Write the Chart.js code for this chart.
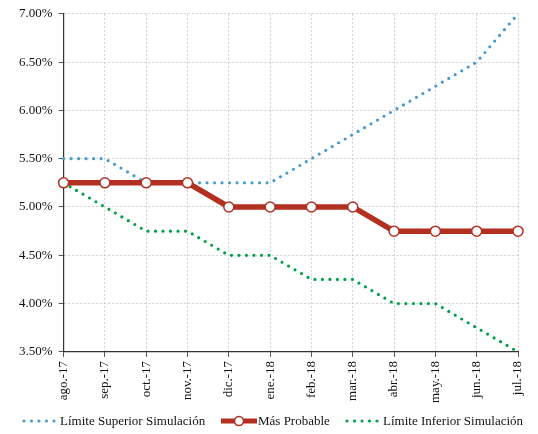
<!DOCTYPE html>
<html>
<head>
<meta charset="utf-8">
<script src="https://cdn.jsdelivr.net/npm/chart.js@4"></script>
<style>
  html, body { margin: 0; padding: 0; background: #ffffff; }
  #wrap { width: 538px; height: 434px; }
</style>
</head>
<body>
<div id="wrap"><canvas id="c" width="538" height="434"></canvas></div>
<script>
// Monthly rate path: upper/lower simulation bounds and most likely scenario (%)
const months = ['ago.-17', 'sep.-17', 'oct.-17', 'nov.-17', 'dic.-17', 'ene.-18',
                'feb.-18', 'mar.-18', 'abr.-18', 'may.-18', 'jun.-18', 'jul.-18'];
const upperSim = [5.50, 5.50, 5.25, 5.25, 5.25, 5.25, 5.50, 5.75, 6.00, 6.25, 6.50, 7.00];
const mostLikely = [5.25, 5.25, 5.25, 5.25, 5.00, 5.00, 5.00, 5.00, 4.75, 4.75, 4.75, 4.75];
const lowerSim = [5.25, 5.00, 4.75, 4.75, 4.50, 4.50, 4.25, 4.25, 4.00, 4.00, 3.75, 3.50];
const seriesNames = ['Límite Superior Simulación', 'Más Probable', 'Límite Inferior Simulación'];
const yTicks = [3.5, 4.0, 4.5, 5.0, 5.5, 6.0, 6.5, 7.0];

const BLUE = '#4a9bcd';
const RED = '#b32f21';
const GREEN = '#00a04a';
const FONT = '"Liberation Serif", "Times New Roman", serif';

// Legend drawn along the bottom edge
const bottomLegend = {
  id: 'bottomLegend',
  afterDraw(chart) {
    const ctx = chart.ctx;
    const y = 421;
    ctx.save();
    ctx.font = '13px ' + FONT;
    ctx.fillStyle = '#111';
    ctx.textBaseline = 'middle';
    ctx.textAlign = 'left';

    const dotted = (x0, x1, color) => {
      ctx.save();
      ctx.strokeStyle = color;
      ctx.lineWidth = 3.2;
      ctx.lineCap = 'round';
      ctx.setLineDash([0, 7.5]);
      ctx.beginPath();
      ctx.moveTo(x0, y);
      ctx.lineTo(x1, y);
      ctx.stroke();
      ctx.restore();
    };

    // upper bound
    dotted(24, 55, BLUE);
    ctx.fillText(seriesNames[0], 60, y + 1);

    // most likely
    ctx.save();
    ctx.strokeStyle = RED;
    ctx.lineWidth = 5;
    ctx.beginPath();
    ctx.moveTo(221, y);
    ctx.lineTo(257, y);
    ctx.stroke();
    ctx.beginPath();
    ctx.arc(239, y, 4.5, 0, Math.PI * 2);
    ctx.fillStyle = '#ffffff';
    ctx.fill();
    ctx.lineWidth = 1.5;
    ctx.stroke();
    ctx.restore();
    ctx.fillText(seriesNames[1], 258, y + 1);

    // lower bound
    dotted(347, 378, GREEN);
    ctx.fillText(seriesNames[2], 383, y + 1);
    ctx.restore();
  }
};

new Chart(document.getElementById('c'), {
  type: 'line',
  data: {
    labels: months,
    datasets: [
      {
        label: seriesNames[1],
        data: mostLikely,
        borderColor: RED,
        backgroundColor: '#ffffff',
        borderWidth: 5.5,
        pointRadius: 5,
        pointBorderWidth: 1.5,
        pointBorderColor: RED,
        pointBackgroundColor: '#ffffff',
        tension: 0,
        order: 0
      },
      {
        label: seriesNames[2],
        data: lowerSim,
        borderColor: GREEN,
        borderWidth: 3.2,
        borderDash: [0, 7.5],
        borderCapStyle: 'round',
        pointRadius: 0,
        tension: 0,
        order: 1
      },
      {
        label: seriesNames[0],
        data: upperSim,
        borderColor: BLUE,
        borderWidth: 3.2,
        borderDash: [0, 7.5],
        borderCapStyle: 'round',
        pointRadius: 0,
        tension: 0,
        order: 2
      }
    ]
  },
  options: {
    responsive: false,
    animation: false,
    devicePixelRatio: 1,
    layout: { padding: { top: 8, right: 20, left: 13, bottom: 27 } },
    plugins: {
      legend: { display: false },
      tooltip: { enabled: false }
    },
    scales: {
      x: {
        offset: false,
        grid: {
          color: '#cfcfcf',
          tickColor: '#555',
          tickLength: 5,
          drawOnChartArea: true
        },
        border: { display: true, color: '#333', width: 1.2, dash: [2, 2] },
        ticks: {
          color: '#111',
          font: { family: FONT, size: 13 },
          maxRotation: 90,
          minRotation: 90,
          padding: 4,
          autoSkip: false
        }
      },
      y: {
        min: 3.5,
        max: 7.0,
        afterBuildTicks(axis) {
          axis.ticks = yTicks.map(v => ({ value: v }));
        },
        grid: {
          color: '#cfcfcf',
          tickColor: '#555',
          tickLength: 5
        },
        border: { display: true, color: '#333', width: 1.2, dash: [2, 2] },
        ticks: {
          color: '#111',
          font: { family: FONT, size: 13 },
          padding: 6,
          callback: v => v.toFixed(2) + '%'
        }
      }
    }
  },
  plugins: [bottomLegend]
});
</script>
</body>
</html>
